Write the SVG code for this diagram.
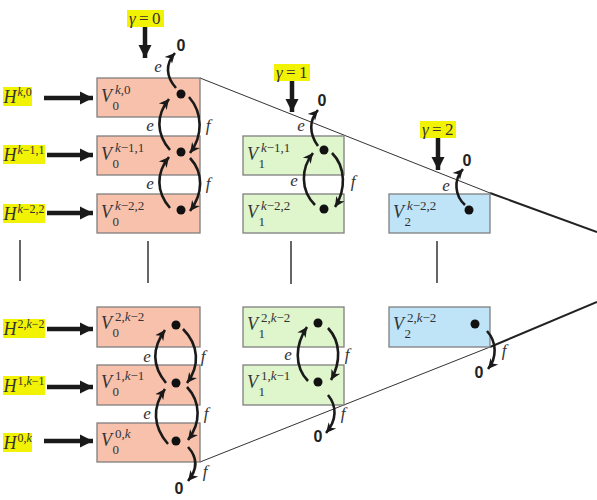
<svg xmlns="http://www.w3.org/2000/svg" width="597" height="500" viewBox="0 0 597 500">
<style>
.b0{fill:#F8C1AC;stroke:#7F7F7F;stroke-width:1.3}
.b1{fill:#DFF5CC;stroke:#7F7F7F;stroke-width:1.3}
.b2{fill:#BFE4F8;stroke:#7F7F7F;stroke-width:1.3}
.hl{fill:#F2F205}
.m{font-family:"Liberation Serif","DejaVu Serif",serif;fill:#333}
.v{font-size:18px;font-style:italic}
.s{font-size:13px;font-style:normal}
.hs{font-size:12px;font-style:normal}
.i{font-style:italic}
.lab{font-family:"Liberation Serif","DejaVu Serif",serif;font-style:italic;font-size:17px;fill:#333;text-anchor:middle}
.z{font-family:"Liberation Sans","Open Sans",sans-serif;font-weight:bold;font-size:16px;fill:#222;text-anchor:middle}
.dot{fill:#111}
.ca{fill:none;stroke:#1a1a1a;stroke-width:2.6;marker-end:url(#ah)}
.big{stroke:#1a1a1a;stroke-width:4.5}
.thin{stroke:#333;stroke-width:1;fill:none}
.thick{stroke:#222;stroke-width:2;fill:none}
.vl{stroke:#333;stroke-width:1.5}
</style>
<defs>
<marker id="ah" markerUnits="userSpaceOnUse" markerWidth="12" markerHeight="12" refX="10" refY="5" orient="auto" viewBox="0 0 12 10">
<path d="M0,0 L10,5 L0,10 L3,5 Z" fill="#1a1a1a"/>
</marker>
<marker id="bh" markerUnits="userSpaceOnUse" markerWidth="14" markerHeight="14" refX="13" refY="6.5" orient="auto" viewBox="0 0 14 13">
<path d="M0,0 L13,6.5 L0,13 Z" fill="#1a1a1a"/>
</marker>
</defs>

<!-- guide lines -->
<g id="guides">
<line class="thin" x1="200" y1="78" x2="490" y2="193"/>
<line class="thick" x1="490" y1="193" x2="597" y2="232"/>
<line class="thin" x1="200" y1="462" x2="490" y2="347"/>
<line class="thick" x1="490" y1="347" x2="597" y2="302"/>
<line class="vl" x1="20" y1="240" x2="20" y2="281"/>
<line class="vl" x1="148" y1="241" x2="148" y2="283"/>
<line class="vl" x1="291" y1="241" x2="291" y2="284"/>
<line class="vl" x1="437" y1="241" x2="437" y2="283"/>
</g>

<!-- H inputs -->
<g id="H_k0"><rect class="hl" x="3" y="87" width="29" height="19"/><text class="m" x="3.5" y="103"><tspan class="v">H</tspan><tspan class="hs" x="17.5" dy="-7"><tspan class="i">k</tspan>,0</tspan></text></g>
<g id="H_k1_1"><rect class="hl" x="3" y="145" width="42" height="19"/><text class="m" x="3.5" y="161"><tspan class="v">H</tspan><tspan class="hs" x="17.5" dy="-7"><tspan class="i">k</tspan>−1,1</tspan></text></g>
<g id="H_k2_2"><rect class="hl" x="3" y="204" width="42" height="19"/><text class="m" x="3.5" y="220"><tspan class="v">H</tspan><tspan class="hs" x="17.5" dy="-7"><tspan class="i">k</tspan>−2,2</tspan></text></g>
<g id="H_2_k2"><rect class="hl" x="3" y="319" width="42" height="19"/><text class="m" x="3.5" y="335"><tspan class="v">H</tspan><tspan class="hs" x="17.5" dy="-7">2,<tspan class="i">k</tspan>−2</tspan></text></g>
<g id="H_1_k1"><rect class="hl" x="3" y="376" width="42" height="19"/><text class="m" x="3.5" y="392"><tspan class="v">H</tspan><tspan class="hs" x="17.5" dy="-7">1,<tspan class="i">k</tspan>−1</tspan></text></g>
<g id="H_0_k"><rect class="hl" x="3" y="433" width="29" height="19"/><text class="m" x="3.5" y="449"><tspan class="v">H</tspan><tspan class="hs" x="17.5" dy="-7">0,<tspan class="i">k</tspan></tspan></text></g>

<!-- gamma labels -->
<g id="gamma0"><rect class="hl" x="127" y="10" width="37" height="17"/><text class="m" font-size="17" y="24"><tspan class="i" x="129">γ</tspan><tspan x="139">=</tspan><tspan x="152">0</tspan></text></g>
<g id="gamma1"><rect class="hl" x="274" y="64" width="36" height="17"/><text class="m" font-size="17" y="78"><tspan class="i" x="276">γ</tspan><tspan x="286">=</tspan><tspan x="299">1</tspan></text></g>
<g id="gamma2"><rect class="hl" x="420" y="121" width="36" height="17"/><text class="m" font-size="17" y="135"><tspan class="i" x="422">γ</tspan><tspan x="432">=</tspan><tspan x="445">2</tspan></text></g>

<!-- column 0 -->
<g id="V0_k0"><rect class="b0" x="97" y="78" width="103" height="39"/><text class="m" x="101" y="102"><tspan class="v">V</tspan><tspan class="s" x="115" dy="-8"><tspan class="i">k</tspan>,0</tspan><tspan class="s" x="112.5" dy="16">0</tspan></text><circle class="dot" cx="181" cy="94" r="4.5"/></g>
<g id="V0_k1_1"><rect class="b0" x="97" y="136" width="103" height="39"/><text class="m" x="101" y="160"><tspan class="v">V</tspan><tspan class="s" x="115" dy="-8"><tspan class="i">k</tspan>−1,1</tspan><tspan class="s" x="112.5" dy="16">0</tspan></text><circle class="dot" cx="181" cy="152" r="4.5"/></g>
<g id="V0_k2_2"><rect class="b0" x="97" y="194" width="103" height="39"/><text class="m" x="101" y="218"><tspan class="v">V</tspan><tspan class="s" x="115" dy="-8"><tspan class="i">k</tspan>−2,2</tspan><tspan class="s" x="112.5" dy="16">0</tspan></text><circle class="dot" cx="181" cy="210" r="4.5"/></g>
<g id="V0_2_k2"><rect class="b0" x="97" y="307" width="103" height="40"/><text class="m" x="101" y="329"><tspan class="v">V</tspan><tspan class="s" x="115" dy="-8">2,<tspan class="i">k</tspan>−2</tspan><tspan class="s" x="112.5" dy="16">0</tspan></text><circle class="dot" cx="176" cy="325" r="4.5"/></g>
<g id="V0_1_k1"><rect class="b0" x="97" y="365" width="103" height="40"/><text class="m" x="101" y="388"><tspan class="v">V</tspan><tspan class="s" x="115" dy="-8">1,<tspan class="i">k</tspan>−1</tspan><tspan class="s" x="112.5" dy="16">0</tspan></text><circle class="dot" cx="176" cy="383" r="4.5"/></g>
<g id="V0_0_k"><rect class="b0" x="97" y="423" width="103" height="39"/><text class="m" x="101" y="446"><tspan class="v">V</tspan><tspan class="s" x="115" dy="-8">0,<tspan class="i">k</tspan></tspan><tspan class="s" x="112.5" dy="16">0</tspan></text><circle class="dot" cx="176" cy="441" r="4.5"/></g>

<!-- column 1 -->
<g id="V1_k1_1"><rect class="b1" x="243" y="136" width="101" height="39"/><text class="m" x="247" y="160"><tspan class="v">V</tspan><tspan class="s" x="261" dy="-8"><tspan class="i">k</tspan>−1,1</tspan><tspan class="s" x="258.5" dy="16">1</tspan></text><circle class="dot" cx="324" cy="150" r="4.5"/></g>
<g id="V1_k2_2"><rect class="b1" x="243" y="194" width="101" height="39"/><text class="m" x="247" y="218"><tspan class="v">V</tspan><tspan class="s" x="261" dy="-8"><tspan class="i">k</tspan>−2,2</tspan><tspan class="s" x="258.5" dy="16">1</tspan></text><circle class="dot" cx="324" cy="209" r="4.5"/></g>
<g id="V1_2_k2"><rect class="b1" x="243" y="307" width="101" height="40"/><text class="m" x="247" y="330"><tspan class="v">V</tspan><tspan class="s" x="261" dy="-8">2,<tspan class="i">k</tspan>−2</tspan><tspan class="s" x="258.5" dy="16">1</tspan></text><circle class="dot" cx="318" cy="323" r="4.5"/></g>
<g id="V1_1_k1"><rect class="b1" x="243" y="365" width="101" height="40"/><text class="m" x="247" y="388"><tspan class="v">V</tspan><tspan class="s" x="261" dy="-8">1,<tspan class="i">k</tspan>−1</tspan><tspan class="s" x="258.5" dy="16">1</tspan></text><circle class="dot" cx="318" cy="382" r="4.5"/></g>

<!-- column 2 -->
<g id="V2_k2_2"><rect class="b2" x="389" y="194" width="101" height="39"/><text class="m" x="393" y="218"><tspan class="v">V</tspan><tspan class="s" x="407" dy="-8"><tspan class="i">k</tspan>−2,2</tspan><tspan class="s" x="404.5" dy="16">2</tspan></text><circle class="dot" cx="469" cy="210" r="4.5"/></g>
<g id="V2_2_k2"><rect class="b2" x="389" y="307" width="101" height="40"/><text class="m" x="393" y="330"><tspan class="v">V</tspan><tspan class="s" x="407" dy="-8">2,<tspan class="i">k</tspan>−2</tspan><tspan class="s" x="404.5" dy="16">2</tspan></text><circle class="dot" cx="475" cy="324" r="4.5"/></g>

<!-- connectors -->
<g id="connectors">
<line class="big" x1="44" y1="98" x2="93" y2="98" marker-end="url(#bh)"/>
<line class="big" x1="47" y1="155" x2="93" y2="155" marker-end="url(#bh)"/>
<line class="big" x1="47" y1="213" x2="93" y2="213" marker-end="url(#bh)"/>
<line class="big" x1="47" y1="329" x2="93" y2="329" marker-end="url(#bh)"/>
<line class="big" x1="47" y1="387" x2="93" y2="387" marker-end="url(#bh)"/>
<line class="big" x1="44" y1="441" x2="93" y2="441" marker-end="url(#bh)"/>
<line class="big" x1="145" y1="27" x2="145" y2="58" marker-end="url(#bh)"/>
<line class="big" x1="292" y1="81" x2="292" y2="112" marker-end="url(#bh)"/>
<line class="big" x1="438" y1="138" x2="438" y2="170" marker-end="url(#bh)"/>

<path class="ca" d="M176 88 C166 77,165 64,175 53"/>
<path class="ca" d="M170 150 C156 134,156 115,169 99"/>
<path class="ca" d="M189 97 C203 113,203 136,190 153"/>
<path class="ca" d="M170 208 C156 192,156 173,169 157"/>
<path class="ca" d="M190 158 C204 173,203 194,190 211"/>

<path class="ca" d="M166 383 C152 366,152 348,165 330"/>
<path class="ca" d="M183 329 C199 345,200 366,187 383"/>
<path class="ca" d="M168 444 C153 427,152 407,165 389"/>
<path class="ca" d="M187 387 C201 402,201 423,188 440"/>
<path class="ca" d="M188 447 C198 458,197 470,188 481"/>

<path class="ca" d="M318 146 C309 134,309 120,318 110"/>
<path class="ca" d="M315 205 C300 190,301 168,313 153"/>
<path class="ca" d="M332 153 C346 167,346 190,335 207"/>
<path class="ca" d="M308 381 C294 366,295 345,307 327"/>
<path class="ca" d="M328 328 C341 342,341 362,331 380"/>
<path class="ca" d="M328 395 C337 406,337 420,326 433"/>

<path class="ca" d="M465 205 C455 196,453 180,463 169"/>
<path class="ca" d="M487 331 C497 342,497 358,488 369"/>

<text class="lab" x="158" y="72">e</text>
<text class="lab" x="150" y="131">e</text>
<text class="lab" x="208" y="131">f</text>
<text class="lab" x="150" y="189">e</text>
<text class="lab" x="208" y="189">f</text>
<text class="lab" x="147" y="362">e</text>
<text class="lab" x="203" y="362">f</text>
<text class="lab" x="147" y="419">e</text>
<text class="lab" x="206" y="419">f</text>
<text class="lab" x="205" y="477">f</text>
<text class="lab" x="301" y="131">e</text>
<text class="lab" x="294" y="186">e</text>
<text class="lab" x="353" y="187">f</text>
<text class="lab" x="288" y="360">e</text>
<text class="lab" x="347" y="360">f</text>
<text class="lab" x="343" y="419">f</text>
<text class="lab" x="446" y="191">e</text>
<text class="lab" x="504" y="356">f</text>

<text class="z" x="181" y="51">0</text>
<text class="z" x="322" y="106">0</text>
<text class="z" x="467" y="166">0</text>
<text class="z" x="179" y="494">0</text>
<text class="z" x="318" y="442">0</text>
<text class="z" x="479" y="378">0</text>
</g>
</svg>
